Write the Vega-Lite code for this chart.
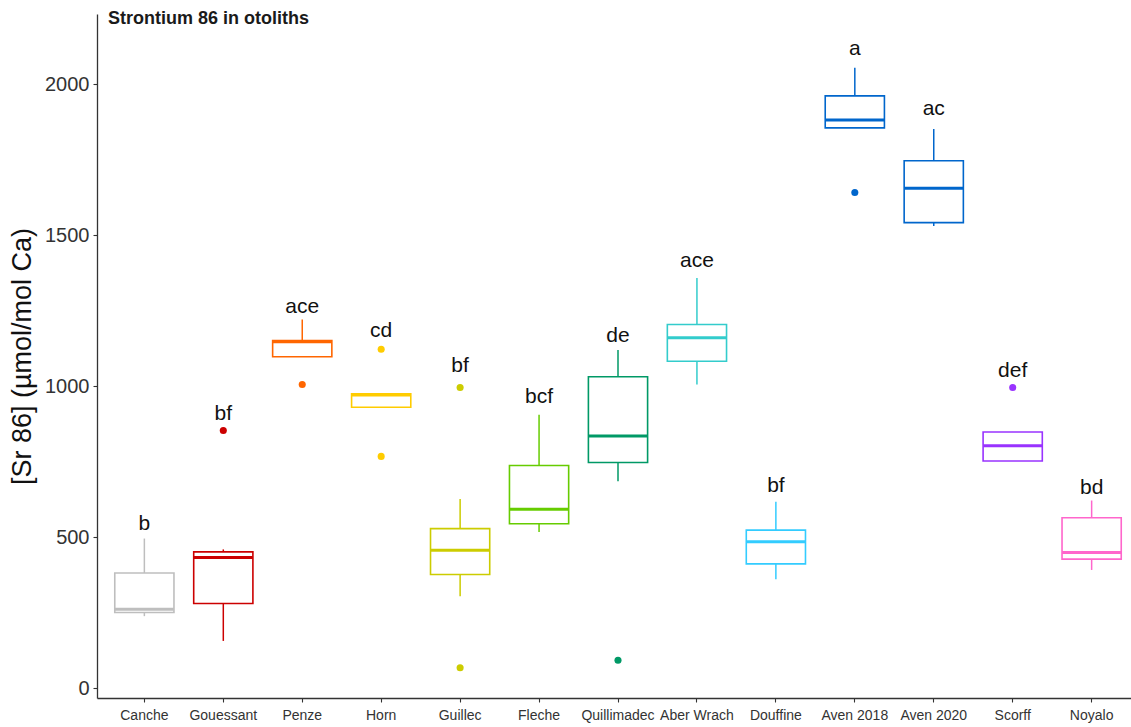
{
  "$schema": "https://vega.github.io/schema/vega-lite/v6.json",
  "width": 1034,
  "height": 684,
  "autosize": {"type": "none"},
  "padding": {"left": 97, "top": 14, "right": 0, "bottom": 29},
  "background": "white",
  "title": {
    "text": "Strontium 86 in otoliths",
    "anchor": "start",
    "frame": "group",
    "orient": "top",
    "offset": 0,
    "dx": 11,
    "dy": 28,
    "baseline": "alphabetic",
    "font": "Liberation Sans",
    "fontSize": 18,
    "fontWeight": "bold",
    "color": "#1a1a1a"
  },
  "config": {
    "view": {"stroke": null},
    "font": "Liberation Sans",
    "axis": {
      "grid": false,
      "domainColor": "#333333",
      "domainWidth": 1.3,
      "tickColor": "#333333",
      "tickWidth": 1.1,
      "tickSize": 4,
      "labelColor": "#333333",
      "labelFont": "Liberation Sans",
      "titleFont": "Liberation Sans",
      "titleFontWeight": "normal",
      "titleColor": "#111111"
    }
  },
  "datasets": {
    "boxes": [
      {"site": "Canche", "lo": 238, "q1": 250, "med": 261, "q3": 381, "hi": 495},
      {"site": "Gouessant", "lo": 156, "q1": 280, "med": 432, "q3": 451, "hi": 459},
      {"site": "Penze", "lo": 1097, "q1": 1097, "med": 1147, "q3": 1151, "hi": 1220},
      {"site": "Horn", "lo": 930, "q1": 930, "med": 970, "q3": 974, "hi": 974},
      {"site": "Guillec", "lo": 304, "q1": 376, "med": 456, "q3": 528, "hi": 626},
      {"site": "Fleche", "lo": 517, "q1": 544, "med": 592, "q3": 737, "hi": 905},
      {"site": "Quillimadec", "lo": 685, "q1": 747, "med": 835, "q3": 1031, "hi": 1119},
      {"site": "Aber Wrach", "lo": 1005, "q1": 1082, "med": 1160, "q3": 1204, "hi": 1358},
      {"site": "Douffine", "lo": 360, "q1": 411, "med": 484, "q3": 523, "hi": 617},
      {"site": "Aven 2018", "lo": 1855, "q1": 1855, "med": 1881, "q3": 1961, "hi": 2054},
      {"site": "Aven 2020", "lo": 1530, "q1": 1541, "med": 1655, "q3": 1746, "hi": 1851},
      {"site": "Scorff", "lo": 752, "q1": 752, "med": 802, "q3": 848, "hi": 848},
      {"site": "Noyalo", "lo": 391, "q1": 427, "med": 449, "q3": 564, "hi": 621}
    ],
    "outliers": [
      {"site": "Gouessant", "value": 853},
      {"site": "Penze", "value": 1005},
      {"site": "Horn", "value": 1122},
      {"site": "Horn", "value": 767},
      {"site": "Guillec", "value": 995},
      {"site": "Guillec", "value": 67},
      {"site": "Quillimadec", "value": 92},
      {"site": "Aven 2018", "value": 1641},
      {"site": "Scorff", "value": 995}
    ],
    "letters": [
      {"site": "Canche", "group": "b", "value": 523},
      {"site": "Gouessant", "group": "bf", "value": 887},
      {"site": "Penze", "group": "ace", "value": 1243},
      {"site": "Horn", "group": "cd", "value": 1163},
      {"site": "Guillec", "group": "bf", "value": 1047},
      {"site": "Fleche", "group": "bcf", "value": 945},
      {"site": "Quillimadec", "group": "de", "value": 1147},
      {"site": "Aber Wrach", "group": "ace", "value": 1395},
      {"site": "Douffine", "group": "bf", "value": 650},
      {"site": "Aven 2018", "group": "a", "value": 2096},
      {"site": "Aven 2020", "group": "ac", "value": 1897},
      {"site": "Scorff", "group": "def", "value": 1030},
      {"site": "Noyalo", "group": "bd", "value": 644}
    ]
  },
  "encoding": {
    "x": {
      "field": "site",
      "type": "nominal",
      "sort": null,
      "scale": {
        "domain": ["Canche", "Gouessant", "Penze", "Horn", "Guillec", "Fleche", "Quillimadec", "Aber Wrach", "Douffine", "Aven 2018", "Aven 2020", "Scorff", "Noyalo"],
        "range": [0, 1042],
        "paddingInner": 0,
        "paddingOuter": 0.1
      },
      "axis": {"title": null, "labelAngle": 0, "labelFontSize": 14, "labelPadding": 6}
    },
    "color": {
      "field": "site",
      "type": "nominal",
      "legend": null,
      "scale": {
        "domain": ["Canche", "Gouessant", "Penze", "Horn", "Guillec", "Fleche", "Quillimadec", "Aber Wrach", "Douffine", "Aven 2018", "Aven 2020", "Scorff", "Noyalo"],
        "range": ["#BEBEBE", "#CC0000", "#FF6600", "#FFCC00", "#CCCC00", "#66CC00", "#009966", "#33CCCC", "#33CCFF", "#0066CC", "#0066CC", "#9933FF", "#FF66CC"]
      }
    }
  },
  "layer": [
    {
      "data": {"name": "boxes"},
      "mark": {"type": "rule", "strokeWidth": 1.5},
      "encoding": {
        "y": {
          "field": "lo",
          "type": "quantitative",
          "scale": {"domain": [-33, 2232], "nice": false, "zero": false},
          "axis": {
            "title": "[Sr 86] (µmol/mol Ca)",
            "titleFontSize": 27,
            "titlePadding": 8,
            "values": [0, 500, 1000, 1500, 2000],
            "format": "d",
            "labelFontSize": 20,
            "labelPadding": 4
          }
        },
        "y2": {"field": "hi"},
        "stroke": {"field": "site", "type": "nominal", "legend": null,
          "scale": {
            "domain": ["Canche", "Gouessant", "Penze", "Horn", "Guillec", "Fleche", "Quillimadec", "Aber Wrach", "Douffine", "Aven 2018", "Aven 2020", "Scorff", "Noyalo"],
            "range": ["#BEBEBE", "#CC0000", "#FF6600", "#FFCC00", "#CCCC00", "#66CC00", "#009966", "#33CCCC", "#33CCFF", "#0066CC", "#0066CC", "#9933FF", "#FF66CC"]
          }}
      }
    },
    {
      "data": {"name": "boxes"},
      "mark": {"type": "bar", "fill": "white", "strokeWidth": 1.6, "width": {"band": 0.75}},
      "encoding": {
        "y": {"field": "q1", "type": "quantitative"},
        "y2": {"field": "q3"},
        "stroke": {"field": "site", "type": "nominal", "legend": null},
        "fill": {"value": "white"}
      }
    },
    {
      "data": {"name": "boxes"},
      "mark": {"type": "tick", "thickness": 3, "size": 59, "orient": "horizontal", "opacity": 1},
      "encoding": {
        "y": {"field": "med", "type": "quantitative"}
      }
    },
    {
      "data": {"name": "outliers"},
      "mark": {"type": "point", "filled": true, "size": 50, "opacity": 1},
      "encoding": {
        "y": {"field": "value", "type": "quantitative"}
      }
    },
    {
      "data": {"name": "letters"},
      "mark": {"type": "text", "fontSize": 21, "baseline": "alphabetic", "align": "center", "font": "Liberation Sans"},
      "encoding": {
        "y": {"field": "value", "type": "quantitative"},
        "text": {"field": "group"},
        "color": {"value": "#111111"}
      }
    }
  ]
}
